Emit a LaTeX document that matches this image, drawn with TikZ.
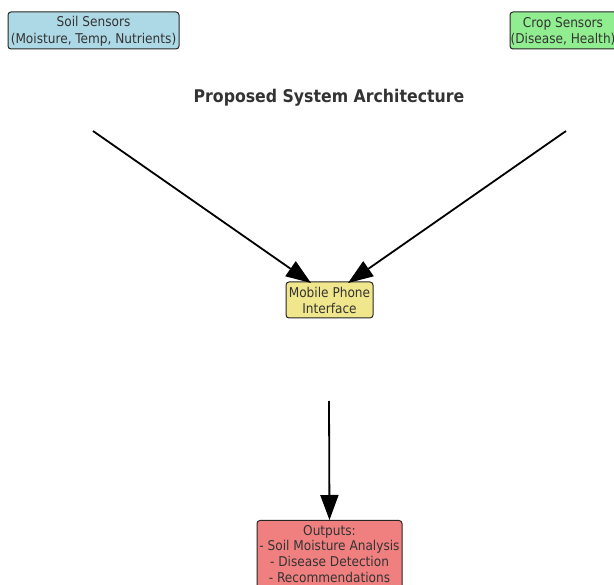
\documentclass[tikz,border=0pt]{standalone}
\usepackage{fontspec}
\setmainfont{DejaVu Sans Condensed}
\usetikzlibrary{arrows.meta}
\definecolor{txt}{HTML}{333333}
\definecolor{soil}{RGB}{173,216,230}
\definecolor{crop}{RGB}{144,238,144}
\definecolor{phone}{RGB}{240,230,140}
\definecolor{outc}{RGB}{240,128,128}
\tikzset{
  box/.style={draw=black!85, line width=1pt, rounded corners=3pt, align=center,
    text=txt, font=\fontsize{13.5}{16.5}\selectfont, inner sep=0pt},
  conn/.style={line width=1.8pt, -{Triangle[length=25pt,width=18pt]}}
}
\begin{document}
\begin{tikzpicture}[x=1pt,y=-1pt]
\useasboundingbox (0,0) rectangle (614,585);
\clip (0,0) rectangle (614,585);
\node[box, fill=soil, minimum width=171pt, minimum height=37pt] (soil) at (93.5,30.5) {};
\node[text=txt, font=\fontsize{13.5}{16.5}\selectfont, align=center, inner sep=0pt] (soiltxt) at (93.5,31.5) {Soil Sensors\\(Moisture, Temp, Nutrients)};
\node[box, fill=crop, minimum width=108pt, minimum height=37pt] (crop) at (564,30.5) {};
\node[text=txt, font=\fontsize{13.5}{16.5}\selectfont, align=center, inner sep=0pt] (croptxt) at (563,31.5) {Crop Sensors\\(Disease, Health)};
\node[text=txt, font=\fontsize{17.5}{20}\selectfont\bfseries] (title) at (329,97.5) {Proposed System Architecture};
\node[box, fill=phone, minimum width=87pt, minimum height=36pt] (phone) at (329.5,300) {};
\node[text=txt, font=\fontsize{13.5}{16}\selectfont, align=center, inner sep=0pt] (phonetxt) at (329.5,300.5) {Mobile Phone\\Interface};
\node[box, fill=outc, minimum width=145pt, minimum height=80pt, anchor=north] (out) at (329.5,520) {};
\node[text=txt, font=\fontsize{13.5}{15.7}\selectfont, align=center, anchor=north, inner sep=0pt] (outtxt) at (329.5,525) {Outputs:\\- Soil Moisture Analysis\\- Disease Detection\\- Recommendations};
\coordinate (a1) at (93,131);
\coordinate (a2) at (566,131);
\coordinate (a3) at (329,401);
\draw[conn] (a1) -- (311,283);
\draw[conn] (a2) -- (348,283);
\draw[conn] (a3) -- (out.north);
\end{tikzpicture}
\end{document}
